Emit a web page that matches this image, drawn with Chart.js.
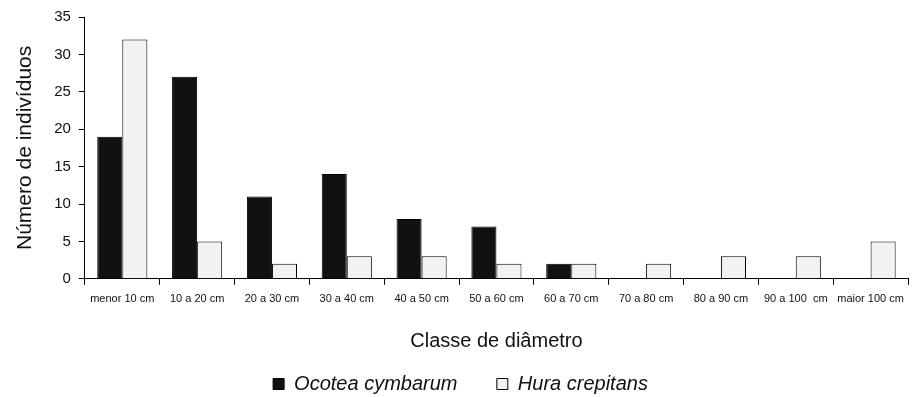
<!DOCTYPE html>
<html>
<head>
<meta charset="utf-8">
<script src="https://cdn.jsdelivr.net/npm/chart.js@4/dist/chart.umd.min.js"></script>
<style>
  html, body { margin: 0; padding: 0; background: #fff; }
  #wrap { width: 915px; height: 397px; }
</style>
</head>
<body>
<div id="wrap"><canvas id="chart"></canvas></div>
<script>
const classes = ['menor 10 cm', '10 a 20 cm', '20 a 30 cm', '30 a 40 cm', '40 a 50 cm', '50 a 60 cm',
  '60 a 70 cm', '70 a 80 cm', '80 a 90 cm', '90 a 100  cm', 'maior 100 cm'];
const ocotea = [19, 27, 11, 14, 8, 7, 2, 0, 0, 0, 0];
const hura = [32, 5, 2, 3, 3, 2, 2, 2, 3, 3, 5];
const yTicks = [0, 5, 10, 15, 20, 25, 30, 35];

Chart.defaults.font.family = "'Liberation Sans', Arial, sans-serif";
Chart.defaults.color = '#111';

const ctx = document.getElementById('chart').getContext('2d');
new Chart(ctx, {
  type: 'bar',
  data: {
    labels: classes,
    datasets: [
      {
        label: 'Ocotea cymbarum',
        data: ocotea,
        backgroundColor: '#111111',
        borderColor: '#000',
        borderWidth: 1,
        categoryPercentage: 0.67,
        barPercentage: 1.0
      },
      {
        label: 'Hura crepitans',
        data: hura,
        backgroundColor: '#f2f2f2',
        borderColor: '#000',
        borderWidth: 1,
        categoryPercentage: 0.67,
        barPercentage: 1.0
      }
    ]
  },
  options: {
    responsive: true,
    maintainAspectRatio: false,
    animation: false,
    layout: { padding: { left: 13, right: 7, top: 11, bottom: -7 } },
    plugins: {
      legend: {
        position: 'bottom',
        labels: {
          font: { size: 20, style: 'italic' },
          boxWidth: 11,
          boxHeight: 11,
          padding: 6,
          color: '#111',
          // extra trailing spaces widen the gap between the two entries
          generateLabels: (chart) => {
            const items = Chart.defaults.plugins.legend.labels.generateLabels(chart);
            items.forEach((it, i) => { if (i === 0) it.text = it.text + '      '; });
            return items;
          }
        }
      },
      tooltip: { enabled: false }
    },
    scales: {
      x: {
        offset: true,
        grid: { display: true, drawOnChartArea: false, drawTicks: true, tickLength: 6, color: '#000', offset: true },
        border: { display: true, color: '#000' },
        ticks: { font: { size: 11 }, maxRotation: 0, autoSkip: false, padding: 8 },
        title: { display: true, text: 'Classe de diâmetro', font: { size: 20 }, padding: { top: 15, bottom: 15 } }
      },
      y: {
        min: 0,
        max: 35,
        afterBuildTicks: (axis) => { axis.ticks = yTicks.map(v => ({ value: v })); },
        grid: { display: true, drawOnChartArea: false, drawTicks: true, tickLength: 6, color: '#000' },
        border: { display: true, color: '#000' },
        ticks: { font: { size: 15 }, padding: 8 },
        title: { display: true, text: 'Número de indivíduos', font: { size: 21 }, padding: { top: 0, bottom: 8 } }
      }
    }
  }
});
</script>
</body>
</html>
